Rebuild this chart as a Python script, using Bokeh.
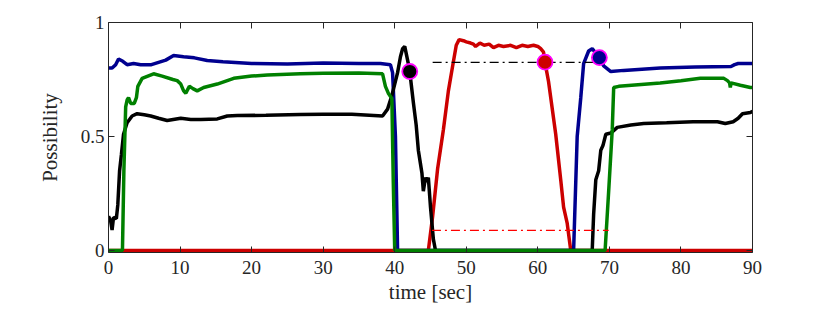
from bokeh.plotting import figure
from bokeh.models import Range1d, FixedTicker, LinearAxis, CustomLabelingPolicy
from bokeh.embed import file_html
from bokeh.resources import INLINE

# ---- data ----
x_ticks = [0, 10, 20, 30, 40, 50, 60, 70, 80, 90]
y_ticks = [0, 0.5, 1]
y_tick_labels = {0: "0", 0.5: "0.5", 1: "1"}

red_t = [0, 44.7, 45.3, 46.0, 46.8, 47.5, 48.1, 48.6, 49.0, 49.6, 50.0, 50.6, 51.0, 51.3,
         51.9, 52.5, 53.2, 53.8, 54.5, 55.2, 56.2, 57.0, 57.8, 58.6, 59.4, 60.0, 60.4,
         60.8, 61.0, 61.5, 62.5, 63.2, 63.6, 64.1, 64.6, 90]
red_y = [0, 0, 0.15, 0.36, 0.53, 0.70, 0.81, 0.90, 0.925, 0.92, 0.915, 0.91, 0.905, 0.895,
         0.91, 0.90, 0.905, 0.89, 0.90, 0.895, 0.90, 0.89, 0.90, 0.895, 0.90, 0.895, 0.885,
         0.87, 0.825, 0.74, 0.51, 0.31, 0.19, 0.12, 0, 0]

blue_t = [0, 0.5, 1.0, 1.4, 2.0, 2.6, 3.5, 4.5, 6.0, 7.0, 8.0, 9.1, 10.5, 12.0, 13.8, 16,
          20, 25, 30, 35, 38, 39.4, 39.7, 40.1, 40.4, 46, 55, 65.0, 65.5, 66.0, 66.4, 67.1,
          67.6, 68.6, 69.2, 70.2, 72, 77.1, 82, 87.0, 87.5, 88, 90]
blue_y = [0.80, 0.80, 0.815, 0.84, 0.83, 0.815, 0.82, 0.815, 0.815, 0.825, 0.835, 0.855, 0.85,
          0.845, 0.833, 0.828, 0.82, 0.818, 0.822, 0.82, 0.82, 0.815, 0.78, 0.50, 0, 0, 0, 0,
          0.50, 0.67, 0.82, 0.875, 0.885, 0.846, 0.81, 0.785, 0.79, 0.80, 0.805, 0.807, 0.815,
          0.82, 0.82]

black_t = [0, 0.3, 0.5, 0.7, 1.1, 1.3, 1.55, 1.8, 2.1, 2.6, 3.3, 4.0, 5.0, 5.9, 7.0, 8.2,
           10.1, 11.5, 12.9, 15.2, 16.6, 18, 22, 26.8, 30, 34, 38.3, 39.0, 39.6, 40.0, 40.4,
           40.8, 41.1, 41.4, 41.9, 42.1, 42.6, 43.0, 43.3, 43.6, 43.8, 44.0, 44.3, 44.5, 44.7,
           45.0, 45.4, 45.7, 67.6, 67.8, 68.1, 68.5, 68.8, 69.1, 69.5, 70.2, 71.1, 73, 74.8,
           78, 81.7, 85.1, 86.2, 87.3, 88.0, 88.6, 89.7, 90]
black_y = [0.15, 0.13, 0.09, 0.145, 0.14, 0.20, 0.35, 0.42, 0.51, 0.56, 0.59, 0.60, 0.595,
           0.59, 0.58, 0.57, 0.58, 0.575, 0.575, 0.577, 0.59, 0.592, 0.593, 0.597, 0.598,
           0.598, 0.59, 0.62, 0.68, 0.73, 0.78, 0.85, 0.885, 0.895, 0.82, 0.785, 0.65, 0.55,
           0.44, 0.38, 0.34, 0.26, 0.32, 0.30, 0.32, 0.19, 0.05, 0, 0, 0.16, 0.31, 0.35, 0.44,
           0.46, 0.51, 0.515, 0.54, 0.55, 0.557, 0.56, 0.565, 0.565, 0.557, 0.565, 0.58, 0.60,
           0.605, 0.61]

green_t = [0, 1.95, 2.15, 2.4, 2.6, 2.8, 3.1, 3.6, 3.9, 4.1, 4.7, 5.5, 6.3, 7.5, 9.0, 9.6,
           10.1, 10.5, 10.8, 11.3, 11.8, 12.4, 13.3, 15.2, 17.5, 20, 22.2, 26.8, 30, 35,
           38.3, 38.7, 39.1, 39.6, 39.8, 40.0, 69.4, 69.9, 70.4, 70.6, 71.3, 74, 77.1, 80,
           82.7, 86, 86.5, 86.8, 86.9, 87.0, 88.3, 89.7, 90]
green_y = [0, 0, 0.35, 0.63, 0.66, 0.67, 0.645, 0.645, 0.67, 0.72, 0.755, 0.765, 0.775, 0.765,
           0.75, 0.745, 0.73, 0.70, 0.69, 0.72, 0.71, 0.70, 0.715, 0.73, 0.755, 0.765, 0.77,
           0.775, 0.777, 0.778, 0.775, 0.72, 0.69, 0.667, 0.30, 0, 0, 0.26, 0.53, 0.715, 0.72,
           0.727, 0.735, 0.745, 0.755, 0.755, 0.745, 0.735, 0.715, 0.735, 0.725, 0.715, 0.715]

marker_t = [42.1, 61.0, 68.6]
marker_y = [0.785, 0.826, 0.846]
marker_colors = ["#000000", "#cc0000", "#00008f"]

black_ref_t = [45.3, 68.6]
black_ref_y = [0.825, 0.825]
red_ref_t = [45.2, 69.9]
red_ref_y = [0.088, 0.088]

FONT = "Liberation Serif"
AX = "#262626"

p = figure(frame_width=644, frame_height=230, output_backend="svg", toolbar_location=None,
           x_range=Range1d(0, 90), y_range=Range1d(-2 / 228, 1.0),
           min_border_left=108, min_border_right=70, min_border_top=22, min_border_bottom=60,
           background_fill_color="white", border_fill_color="white")
p.outline_line_color = None
p.xgrid.visible = False
p.ygrid.visible = False

for ax in [p.xaxis[0], p.yaxis[0]]:
    ax.major_tick_in = 6
    ax.major_tick_out = 0
    ax.minor_tick_line_color = None
    ax.axis_line_color = AX
    ax.major_tick_line_color = AX
    ax.major_label_text_font = FONT
    ax.major_label_text_font_size = "19px"
    ax.major_label_text_color = AX
    ax.axis_label_text_font = FONT
    ax.axis_label_text_font_size = "21px"
    ax.axis_label_text_font_style = "normal"
    ax.axis_label_text_color = AX

p.xaxis.ticker = FixedTicker(ticks=x_ticks)
p.yaxis.ticker = FixedTicker(ticks=y_ticks)
p.yaxis.major_label_overrides = y_tick_labels
p.xaxis.major_label_standoff = 8
p.yaxis.major_label_standoff = 4
p.yaxis.axis_label = "Possibility"
p.yaxis.axis_label_standoff = 16
p.xaxis.axis_label = "time [sec]"
p.xaxis.axis_label_standoff = 3

HIDE = ("try { for (let i = 0; i < indices.size; i++) { indices.unset(i) } } catch (e) {} "
        "return indices")

# top and right axes (ticks only)
top = LinearAxis(ticker=FixedTicker(ticks=x_ticks), major_tick_in=6, major_tick_out=0,
                 minor_tick_line_color=None, axis_line_color=AX, major_tick_line_color=AX,
                 major_label_policy=CustomLabelingPolicy(code=HIDE), major_label_standoff=0,
                 major_label_text_font_size="0px")
right = LinearAxis(ticker=FixedTicker(ticks=y_ticks), major_tick_in=6, major_tick_out=0,
                   minor_tick_line_color=None, axis_line_color=AX, major_tick_line_color=AX,
                   major_label_policy=CustomLabelingPolicy(code=HIDE), major_label_standoff=0,
                   major_label_text_font_size="0px")
p.add_layout(top, "above")
p.add_layout(right, "right")

LW = 3.5
p.line(red_t, red_y, line_color="#cc0000", line_width=LW)
p.line(blue_t, blue_y, line_color="#00008f", line_width=LW)
p.line(black_t, black_y, line_color="#000000", line_width=LW)
p.line(green_t, green_y, line_color="#008000", line_width=LW)

p.line(black_ref_t, black_ref_y, line_color="#000000", line_width=1.3, line_dash="9 4 2 4")
p.line(red_ref_t, red_ref_y, line_color="#ff0000", line_width=1.3, line_dash="9 4 2 4")

p.scatter(marker_t, marker_y, marker="circle", size=15, fill_color=marker_colors,
          line_color="#ff00ff", line_width=1.8)

open("out.html", "w").write(file_html(p, INLINE))
